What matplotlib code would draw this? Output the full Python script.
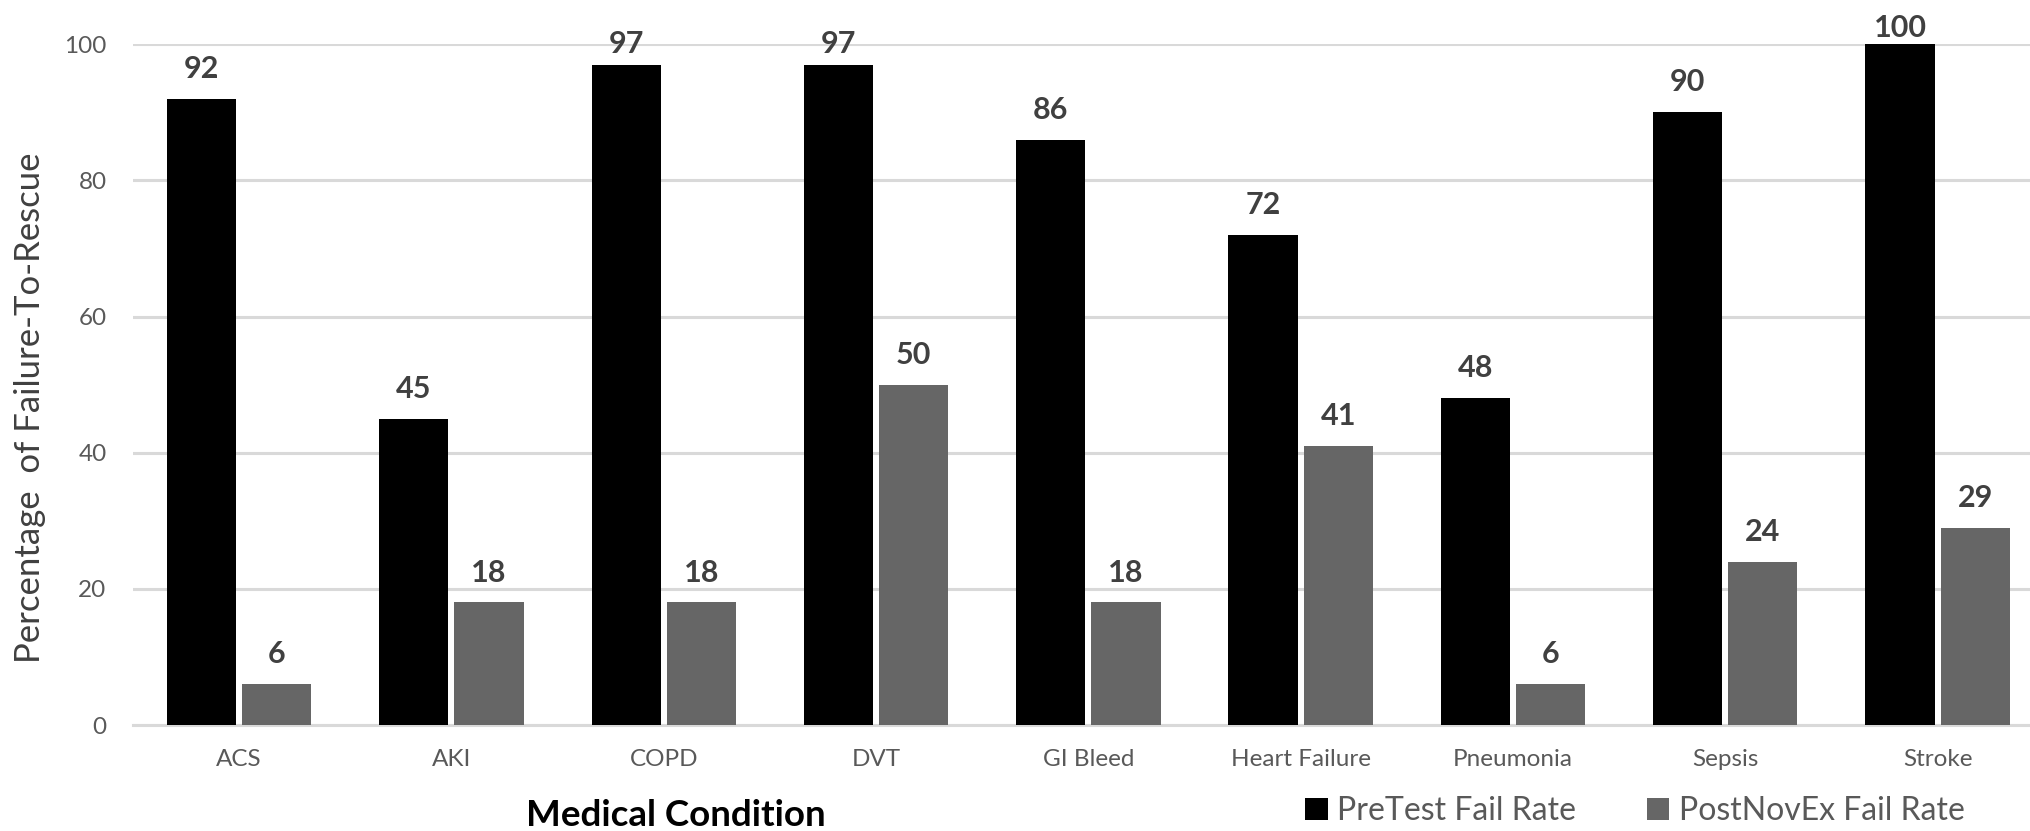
import matplotlib
matplotlib.use("Agg")
import matplotlib.pyplot as plt
import numpy as np
from matplotlib.patches import Patch

plt.rcParams['font.family'] = ['Lato', 'DejaVu Sans']

conditions = ["ACS", "AKI", "COPD", "DVT", "GI Bleed", "Heart Failure",
              "Pneumonia", "Sepsis", "Stroke"]
pretest_fail = [92, 45, 97, 97, 86, 72, 48, 90, 100]
postnovex_fail = [6, 18, 18, 50, 18, 41, 6, 24, 29]
series_names = ["PreTest Fail Rate", "PostNovEx Fail Rate"]
y_ticks = [0, 20, 40, 60, 80, 100]

BLACK = "#000000"
GREY = "#666666"
GRID = "#d9d9d9"
TICK_TXT = "#595959"
VAL_TXT = "#404040"

fig = plt.figure(figsize=(20.31, 8.31), dpi=100)
ax = fig.add_axes([133 / 2031, 1 - 725 / 831, 1 - 133 / 2031, (725 - 44.3) / 831])

x = np.arange(len(conditions))
width = 0.326
offset = 0.177
b1 = ax.bar(x - offset, pretest_fail, width, color=BLACK, zorder=3)
b2 = ax.bar(x + offset, postnovex_fail, width, color=GREY, zorder=3)


def label_gap(v):
    # labels on the tallest bars are nudged down to stay inside the chart area
    if v >= 100:
        return 1.5
    if v >= 95:
        return 5
    return 11.5


for bars, vals in ((b1, pretest_fail), (b2, postnovex_fail)):
    for rect, v in zip(bars, vals):
        ax.annotate(f"{v}", (rect.get_x() + rect.get_width() / 2, v),
                    xytext=(0, label_gap(v)), textcoords="offset points",
                    ha="center", va="bottom", fontsize=22, fontweight="bold",
                    color=VAL_TXT, annotation_clip=False, zorder=5)

ax.set_xlim(-0.5, 8.44)
ax.set_ylim(0, 100)
ax.set_yticks(y_ticks)
ax.set_xticks(x)
ax.set_xticklabels(conditions)
ax.tick_params(axis="both", length=0, labelsize=17.5, labelcolor=TICK_TXT)
ax.tick_params(axis="y", pad=19)
ax.tick_params(axis="x", pad=17)
ax.yaxis.grid(True, color=GRID, linewidth=2.2, zorder=0)
ax.set_axisbelow(True)
for s in ("top", "right", "left"):
    ax.spines[s].set_visible(False)
ax.spines["bottom"].set_color(GRID)
ax.spines["bottom"].set_linewidth(2.2)

fig.text(30 / 2031, 1 - 408 / 831, "Percentage  of Failure-To-Rescue",
         rotation=90, ha="center", va="center", fontsize=25, color=VAL_TXT)
fig.text(676 / 2031, 1 - 815 / 831, "Medical Condition", ha="center",
         va="center", fontsize=26.5, fontweight="bold", color=BLACK)

handles = [Patch(facecolor=BLACK), Patch(facecolor=GREY)]
fig.legend(handles, series_names, loc="center", bbox_to_anchor=(1635 / 2031, 1 - 811 / 831),
           ncol=2, frameon=False, fontsize=23, labelcolor=TICK_TXT,
           handlelength=0.7, handleheight=0.7, handletextpad=0.3, columnspacing=2.2)

fig.savefig("out.png", dpi=100, facecolor="white")
